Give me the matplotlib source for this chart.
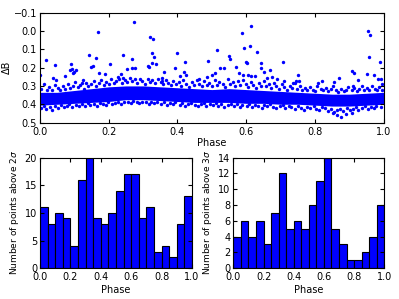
import numpy as np
import matplotlib
matplotlib.use("Agg")
import matplotlib.pyplot as plt

# histogram counts per phase bin (20 bins over 0..1)
counts_2sig = [11, 8, 10, 9, 4, 16, 20, 9, 8, 10, 14, 17, 17, 9, 11, 3, 4, 2, 8, 13]
counts_3sig = [4, 6, 4, 6, 3, 7, 12, 5, 6, 5, 8, 11, 14, 5, 3, 1, 1, 2, 4, 8]

# dense core of the light curve: upper / lower envelope
band_phase = [0.0, 0.05, 0.1, 0.15, 0.2, 0.25, 0.3, 0.35, 0.4, 0.45, 0.5,
              0.55, 0.6, 0.65, 0.7, 0.75, 0.8, 0.85, 0.9, 0.95, 1.0]
band_top = [0.335, 0.335, 0.325, 0.315, 0.305, 0.30, 0.30, 0.305, 0.31, 0.315, 0.32,
            0.315, 0.32, 0.325, 0.33, 0.335, 0.34, 0.345, 0.345, 0.34, 0.335]
band_bot = [0.405, 0.40, 0.395, 0.39, 0.385, 0.375, 0.375, 0.38, 0.385, 0.39, 0.39,
            0.39, 0.395, 0.395, 0.40, 0.40, 0.405, 0.41, 0.41, 0.405, 0.40]

# ragged points above the core
upper_phase = [0.004, 0.012, 0.021, 0.027, 0.036, 0.043, 0.052, 0.058, 0.067, 0.074,
               0.081, 0.088, 0.097, 0.103, 0.112, 0.118, 0.127, 0.134, 0.141, 0.149,
               0.156, 0.163, 0.171, 0.178, 0.186, 0.192, 0.201, 0.207, 0.216, 0.222,
               0.231, 0.238, 0.246, 0.253, 0.261, 0.268, 0.276, 0.283, 0.291, 0.298,
               0.306, 0.313, 0.321, 0.327, 0.336, 0.343, 0.351, 0.358, 0.366, 0.372,
               0.381, 0.388, 0.396, 0.403, 0.411, 0.417, 0.426, 0.433, 0.441, 0.447,
               0.456, 0.463, 0.471, 0.478, 0.486, 0.492, 0.501, 0.508, 0.516, 0.522,
               0.531, 0.538, 0.546, 0.553, 0.561, 0.567, 0.576, 0.583, 0.591, 0.598,
               0.606, 0.613, 0.621, 0.628, 0.636, 0.642, 0.651, 0.658, 0.666, 0.673,
               0.681, 0.687, 0.696, 0.703, 0.711, 0.718, 0.726, 0.733, 0.741, 0.748,
               0.756, 0.762, 0.771, 0.778, 0.786, 0.793, 0.801, 0.807, 0.816, 0.823,
               0.831, 0.838, 0.846, 0.852, 0.861, 0.868, 0.876, 0.883, 0.891, 0.897,
               0.906, 0.913, 0.921, 0.928, 0.936, 0.942, 0.951, 0.958, 0.966, 0.973,
               0.981, 0.987, 0.995]
upper_db = [0.315, 0.29, 0.325, 0.305, 0.32, 0.295, 0.31, 0.325, 0.30, 0.315,
            0.29, 0.31, 0.30, 0.28, 0.305, 0.295, 0.315, 0.285, 0.30, 0.29,
            0.275, 0.30, 0.285, 0.27, 0.295, 0.28, 0.29, 0.265, 0.285, 0.275,
            0.26, 0.285, 0.27, 0.28, 0.255, 0.275, 0.265, 0.285, 0.26, 0.275,
            0.29, 0.265, 0.28, 0.27, 0.285, 0.26, 0.28, 0.29, 0.27, 0.285,
            0.295, 0.275, 0.29, 0.28, 0.30, 0.27, 0.29, 0.305, 0.28, 0.295,
            0.27, 0.29, 0.30, 0.275, 0.295, 0.285, 0.30, 0.27, 0.295, 0.28,
            0.29, 0.305, 0.265, 0.29, 0.28, 0.30, 0.275, 0.295, 0.27, 0.29,
            0.305, 0.28, 0.295, 0.31, 0.285, 0.30, 0.275, 0.30, 0.29, 0.31,
            0.285, 0.30, 0.315, 0.29, 0.305, 0.32, 0.30, 0.31, 0.285, 0.315,
            0.30, 0.32, 0.31, 0.325, 0.305, 0.32, 0.33, 0.30, 0.315, 0.325,
            0.31, 0.33, 0.315, 0.30, 0.325, 0.335, 0.315, 0.33, 0.32, 0.305,
            0.325, 0.31, 0.33, 0.315, 0.30, 0.325, 0.31, 0.32, 0.30, 0.315,
            0.325, 0.305, 0.32]

# ragged points below the core
lower_phase = [0.003, 0.011, 0.019, 0.028, 0.034, 0.045, 0.053, 0.061, 0.069, 0.078,
               0.086, 0.094, 0.105, 0.113, 0.121, 0.131, 0.139, 0.147, 0.158, 0.166,
               0.174, 0.183, 0.191, 0.199, 0.211, 0.219, 0.227, 0.236, 0.244, 0.257,
               0.264, 0.272, 0.281, 0.289, 0.297, 0.309, 0.316, 0.324, 0.333, 0.341,
               0.353, 0.361, 0.369, 0.378, 0.386, 0.394, 0.407, 0.414, 0.422, 0.431,
               0.439, 0.451, 0.459, 0.467, 0.476, 0.484, 0.495, 0.503, 0.512, 0.519,
               0.528, 0.536, 0.548, 0.556, 0.564, 0.573, 0.581, 0.589, 0.601, 0.609,
               0.617, 0.626, 0.634, 0.645, 0.653, 0.661, 0.669, 0.678, 0.686, 0.698,
               0.706, 0.714, 0.723, 0.731, 0.743, 0.751, 0.759, 0.767, 0.776, 0.784,
               0.796, 0.803, 0.811, 0.82, 0.828, 0.839, 0.847, 0.856, 0.864, 0.872,
               0.881, 0.893, 0.901, 0.909, 0.918, 0.926, 0.937, 0.945, 0.953, 0.962,
               0.97, 0.978, 0.991]
lower_db = [0.42, 0.41, 0.425, 0.415, 0.43, 0.41, 0.42, 0.405, 0.415, 0.41,
            0.40, 0.415, 0.405, 0.41, 0.40, 0.41, 0.395, 0.405, 0.40, 0.41,
            0.395, 0.40, 0.405, 0.39, 0.40, 0.395, 0.385, 0.40, 0.39, 0.385,
            0.395, 0.38, 0.39, 0.395, 0.385, 0.39, 0.40, 0.385, 0.395, 0.39,
            0.40, 0.39, 0.405, 0.395, 0.40, 0.39, 0.405, 0.395, 0.41, 0.40,
            0.395, 0.405, 0.41, 0.40, 0.395, 0.41, 0.40, 0.405, 0.395, 0.41,
            0.40, 0.415, 0.405, 0.40, 0.41, 0.40, 0.415, 0.405, 0.41, 0.40,
            0.415, 0.405, 0.41, 0.42, 0.405, 0.41, 0.40, 0.415, 0.42, 0.41,
            0.405, 0.42, 0.41, 0.415, 0.425, 0.41, 0.42, 0.43, 0.415, 0.42,
            0.41, 0.425, 0.43, 0.415, 0.42, 0.435, 0.425, 0.44, 0.43, 0.425,
            0.435, 0.42, 0.43, 0.425, 0.415, 0.43, 0.42, 0.41, 0.425, 0.415,
            0.42, 0.41, 0.415]

# isolated outliers
out_phase = [0.273, 0.170, 0.319, 0.330, 0.327, 0.331, 0.400, 0.142, 0.164, 0.242,
             0.269, 0.019, 0.045, 0.090, 0.150, 0.154, 0.314, 0.317, 0.326, 0.337,
             0.423, 0.394, 0.203, 0.173, 0.188, 0.237, 0.252, 0.269, 0.277, 0.361,
             0.407, 0.419, 0.426, 0.356, 0.354, 0.000, 0.039, 0.048, 0.088, 0.094,
             0.096, 0.100, 0.104, 0.073, 0.126, 0.121, 0.228, 0.242, 0.463,
             0.613, 0.587, 0.610, 0.592, 0.632, 0.515, 0.549, 0.554, 0.489, 0.598,
             0.603, 0.706, 0.643, 0.536, 0.523, 0.569, 0.642, 0.652, 0.670, 0.955,
             0.961, 0.958, 0.988, 0.908, 0.913, 0.950, 0.971, 0.820, 0.808, 0.854,
             0.870, 0.924, 0.749, 0.753, 0.744, 0.736, 0.578, 0.590, 0.605, 0.615,
             0.625, 0.660, 0.675, 0.690, 0.710, 0.510, 0.500, 0.485, 0.982, 0.993,
             0.996, 0.910, 0.851, 0.874, 0.865, 0.889, 0.906]
out_db = [-0.047, 0.005, 0.034, 0.042, 0.121, 0.143, 0.121, 0.132, 0.149, 0.132,
          0.153, 0.160, 0.187, 0.180, 0.195, 0.189, 0.192, 0.196, 0.173, 0.180,
          0.169, 0.200, 0.178, 0.231, 0.234, 0.234, 0.207, 0.202, 0.200, 0.222,
          0.245, 0.222, 0.238, 0.258, 0.273, 0.243, 0.255, 0.267, 0.215, 0.210,
          0.232, 0.222, 0.212, 0.245, 0.267, 0.285, 0.253, 0.258, 0.262,
          -0.027, 0.012, 0.083, 0.093, 0.116, 0.103, 0.138, 0.151, 0.162, 0.167,
          0.173, 0.171, 0.176, 0.200, 0.202, 0.196, 0.202, 0.222, 0.214, -0.001,
          0.023, 0.140, 0.169, 0.218, 0.231, 0.234, 0.240, 0.273, 0.285, 0.280,
          0.255, 0.267, 0.243, 0.271, 0.271, 0.285, 0.230, 0.240, 0.238, 0.248,
          0.245, 0.255, 0.250, 0.265, 0.275, 0.232, 0.240, 0.250, 0.262, 0.265,
          0.290, 0.300, 0.445, 0.471, 0.458, 0.453, 0.445]

BLUE = "#0000ff"

plt.rcParams.update({
    "font.family": "DejaVu Sans",
    "font.size": 7,
    "xtick.direction": "in",
    "ytick.direction": "in",
    "xtick.top": True,
    "ytick.right": True,
    "xtick.major.size": 3,
    "ytick.major.size": 3,
    "xtick.major.pad": 3,
    "ytick.major.pad": 2,
    "axes.linewidth": 0.8,
})

fig = plt.figure(figsize=(3.99, 2.99), dpi=100)

# top: light curve
ax = fig.add_axes([0.100, 0.590, 0.862, 0.368])
ax.fill_between(band_phase, band_top, band_bot, color=BLUE, lw=0)
ax.scatter(upper_phase, upper_db, s=6, color=BLUE, lw=0)
ax.scatter(lower_phase, lower_db, s=6, color=BLUE, lw=0)
ax.scatter(out_phase, out_db, s=6, color=BLUE, lw=0)
ax.set_xlim(0, 1)
ax.set_ylim(0.5, -0.1)
ax.set_xticks(np.arange(0, 1.01, 0.2))
ax.set_yticks(np.arange(-0.1, 0.51, 0.1))
ax.set_xlabel("Phase", labelpad=1)
ax.set_ylabel("ΔB", labelpad=1)

edges = np.linspace(0, 1, len(counts_2sig) + 1)
width = edges[1] - edges[0]

ax1 = fig.add_axes([0.100, 0.103, 0.381, 0.370])
ax1.bar(edges[:-1], counts_2sig, width=width, align="edge",
        color=BLUE, edgecolor="black", lw=0.8)
ax1.set_xlim(0, 1)
ax1.set_ylim(0, 20)
ax1.set_xticks(np.arange(0, 1.01, 0.2))
ax1.set_yticks(np.arange(0, 21, 5))
ax1.set_xlabel("Phase", labelpad=2)
ax1.set_ylabel(r"Number of points above 2$\sigma$", labelpad=3, fontsize=6.5)

ax2 = fig.add_axes([0.585, 0.103, 0.378, 0.370])
ax2.bar(edges[:-1], counts_3sig, width=width, align="edge",
        color=BLUE, edgecolor="black", lw=0.8)
ax2.set_xlim(0, 1)
ax2.set_ylim(0, 14)
ax2.set_xticks(np.arange(0, 1.01, 0.2))
ax2.set_yticks(np.arange(0, 15, 2))
ax2.set_xlabel("Phase", labelpad=2)
ax2.set_ylabel(r"Number of points above 3$\sigma$", labelpad=3, fontsize=6.5)

fig.savefig("out.png", dpi=100)
